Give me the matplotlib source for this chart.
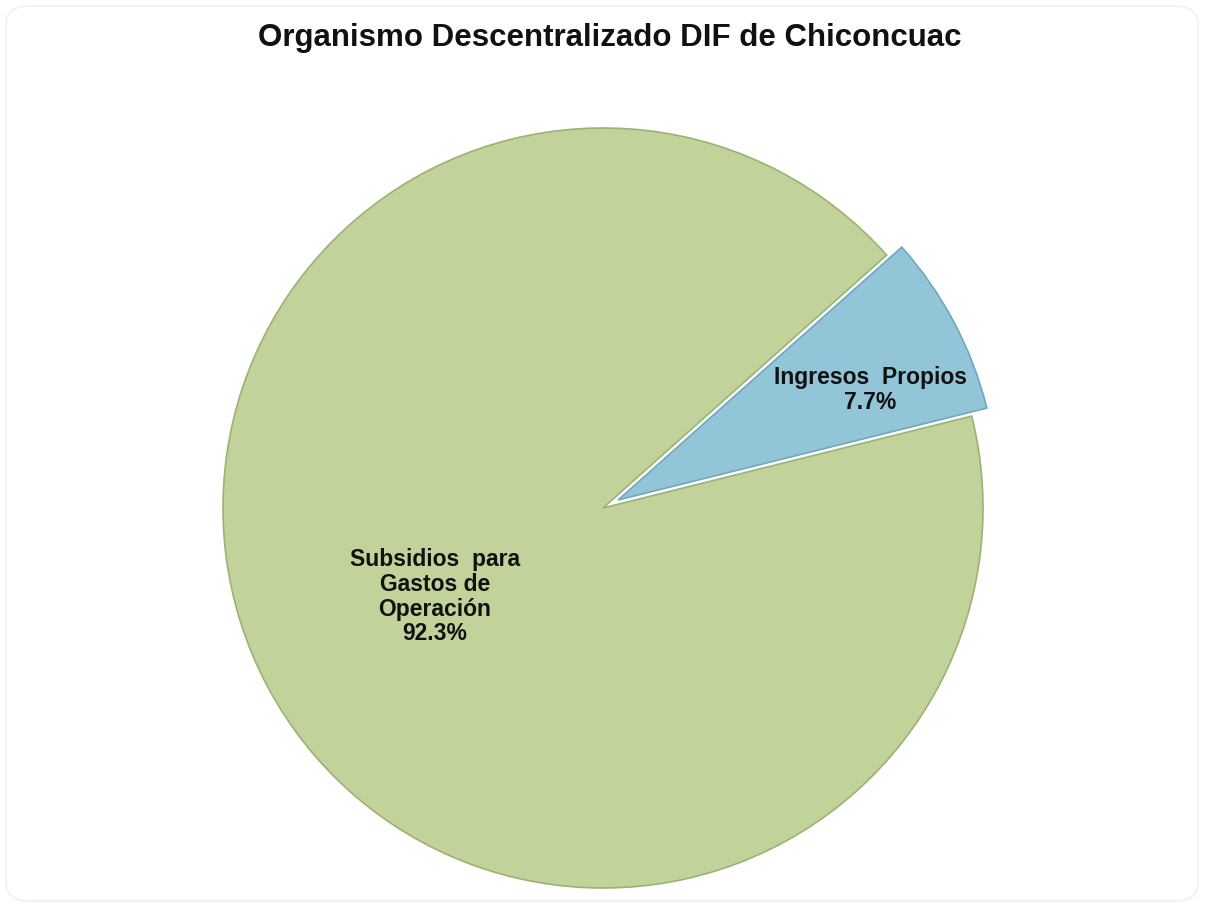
import matplotlib
matplotlib.use("Agg")
import matplotlib.pyplot as plt
from matplotlib.patches import FancyBboxPatch
import numpy as np

TITLE = "Organismo Descentralizado DIF de Chiconcuac"
categories = ["Ingresos  Propios", "Subsidios  para\nGastos de\nOperación"]
shares = [7.7, 92.3]
colors = ["#92c5d7", "#c2d29b"]
explode = [0.045, 0.0]
label_dist = [0.725, 0.5]
label_turn = [-4.0, 0.0]  # small angular nudge of the labels, degrees

plt.rcParams["font.family"] = ["Liberation Sans", "DejaVu Sans"]

fig = plt.figure(figsize=(12.06, 9.05), dpi=100)
fig.patch.set_facecolor("white")

# faint frame of the original screenshot
frame = FancyBboxPatch((6 / 1206, 4 / 905), 1 - 14 / 1206, 1 - 10 / 905,
                       boxstyle="round,pad=0,rounding_size=0.02",
                       transform=fig.transFigure, facecolor="none",
                       edgecolor="#f2f2f2", linewidth=1.5)
fig.patches.append(frame)

# pie centre ~ (603, 508) px, radius ~ 380 px
r_px = 380
half = 1.1
cx, cy = 603, 508
side = 2 * r_px * half
ax = fig.add_axes([(cx - side / 2) / 1206, 1 - (cy + side / 2) / 905,
                   side / 1206, side / 905])

wedges, _ = ax.pie(shares, colors=colors, explode=explode, startangle=14,
                   counterclock=True,
                   wedgeprops=dict(linewidth=1.2))
wedges[0].set_edgecolor("#6fa8bd")
wedges[1].set_edgecolor("#9cb272")
# white halo under the slices
ax.pie(shares, colors=["none", "none"], explode=explode,
       startangle=14, counterclock=True,
       wedgeprops=dict(linewidth=4, edgecolor="white", zorder=0))

for w, name, pct, d, ex, turn in zip(wedges, categories, shares,
                                     label_dist, explode, label_turn):
    mid = np.deg2rad((w.theta1 + w.theta2) / 2 + turn)
    x = (d + ex) * np.cos(mid)
    y = (d + ex) * np.sin(mid)
    ax.text(x, y, f"{name}\n{pct:.1f}%", ha="center", va="center",
            fontsize=16.5, fontweight="bold", color="#111111",
            linespacing=1.1)

ax.set_xlim(-half, half)
ax.set_ylim(-half, half)
ax.set_aspect("equal")
ax.axis("off")

fig.text(610 / 1206, 1 - 38 / 905, TITLE, ha="center", va="center",
         fontsize=22.5, fontweight="bold", color="#111111")

fig.savefig("out.png", dpi=100)
